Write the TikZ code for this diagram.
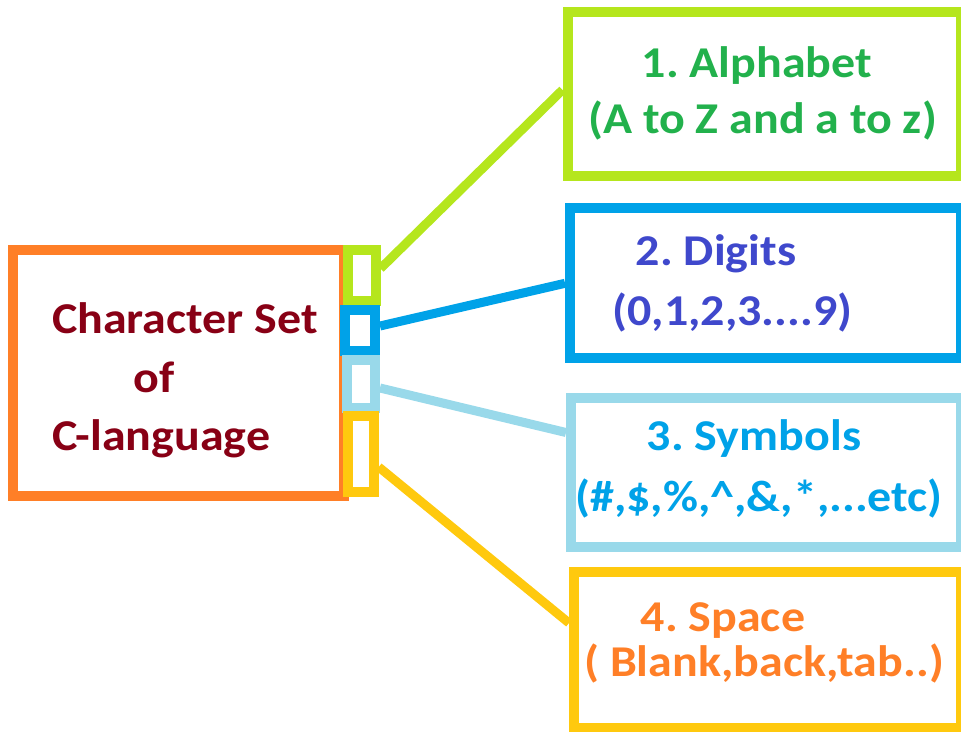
\documentclass[tikz,border=0pt]{standalone}
\usepackage{fontspec}
\setmainfont{Carlito}[FakeStretch=1.09]
\definecolor{paintorange}{RGB}{255,127,39}
\definecolor{paintlime}{RGB}{181,230,29}
\definecolor{paintblue}{RGB}{0,162,232}
\definecolor{paintsky}{RGB}{153,217,234}
\definecolor{paintgold}{RGB}{255,201,14}
\definecolor{paintred}{RGB}{136,0,21}
\definecolor{paintgreen}{RGB}{34,177,76}
\definecolor{paintindigo}{RGB}{63,72,204}
\frenchspacing

\begin{document}
\begin{tikzpicture}[x=1pt,y=-1pt,
  frame/.style={draw,line width=10pt,inner sep=0pt},
  link/.style={line width=9pt},
  itemtext/.style={anchor=base,inner sep=0pt,font=\bfseries\fontsize{44}{52}\selectfont}]
  \useasboundingbox (0,0) rectangle (961,731);

  % main box
  \node[frame,paintorange,minimum width=331.5pt,minimum height=246pt] (charset) at (178.25,373) {};
  \node[itemtext,paintred] (setline) at (185,333) {Character Set};
  \node[itemtext,paintred] (ofline) at (154,392) {of};
  \node[itemtext,paintred] (langline) at (161.5,450) {C-language};

  % small tabs
  \node[frame,paintlime,minimum width=28pt,minimum height=51pt] (tabA) at (361.5,275.5) {};
  \node[frame,paintblue,minimum width=30pt,minimum height=41pt] (tabB) at (360,330.5) {};
  \node[frame,paintsky,minimum width=28pt,minimum height=48pt] (tabC) at (361,384) {};
  \node[frame,paintgold,minimum width=26pt,minimum height=76pt] (tabD) at (360.7,454) {};

  % right boxes
  \node[frame,paintlime,minimum width=393pt,minimum height=164pt] (alpha) at (764,93.9) {};
  \node[itemtext,paintgreen] (alphaA) at (757,77) {1. Alphabet};
  \node[itemtext,paintgreen] (alphaB) at (762.5,133) {(A to Z and a to z)};

  \node[frame,paintblue,minimum width=390.5pt,minimum height=150pt] (digit) at (765.25,283.3) {};
  \node[itemtext,paintindigo] (digitA) at (716,265) {2. Digits};
  \node[itemtext,paintindigo] (digitB) at (732.5,325) {(0,1,2,3....9)};

  \node[frame,paintsky,minimum width=390pt,minimum height=148.4pt] (symb) at (766,472.5) {};
  \node[itemtext,paintblue] (symbA) at (754,450) {3. Symbols};
  \node[itemtext,paintblue] (symbB) at (759,511.7) {(\#,\$,\%,\textasciicircum,\&,*,...etc)};

  \node[frame,paintgold,minimum width=386.5pt,minimum height=155.7pt] (space) at (767.25,650) {};
  \node[itemtext,paintorange] (spaceA) at (723,631.7) {4. Space};
  \node[itemtext,paintorange] (spaceB) at (764,676.7) {( Blank,back,tab..)};

  % connectors
  \draw[link,paintlime] ([yshift=7pt]tabA.east) -- ([yshift=4pt]alpha.west);
  \draw[link,paintblue] ([yshift=4.5pt]tabB.east) -- (digit.west);
  \draw[link,paintsky] ([yshift=-4pt]tabC.east) -- ([yshift=40pt]symb.west);
  \draw[link,paintgold] ([yshift=-13pt]tabD.east) -- ([yshift=27pt]space.west);
\end{tikzpicture}
\end{document}
